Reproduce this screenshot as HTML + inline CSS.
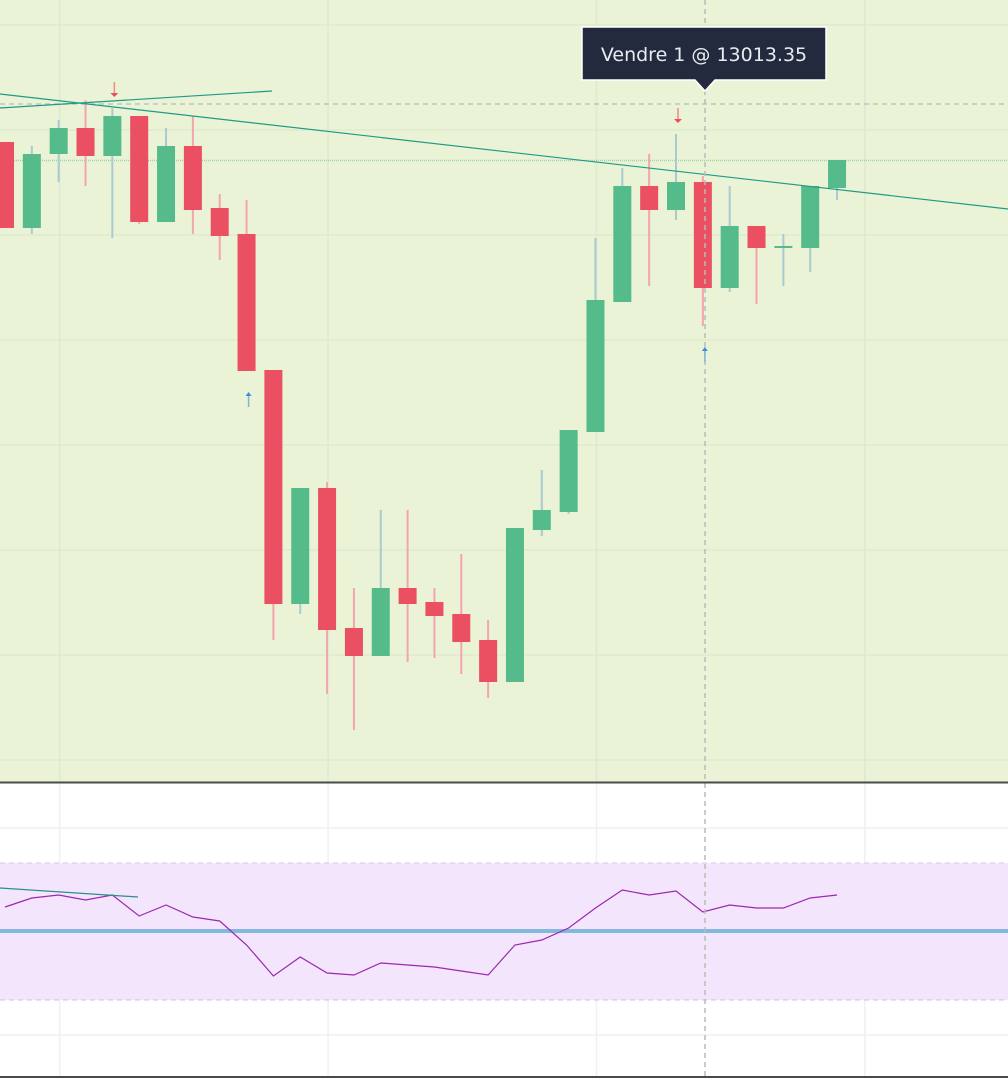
<!DOCTYPE html>
<html><head><meta charset="utf-8"><style>
html,body{margin:0;padding:0;width:1008px;height:1078px;overflow:hidden;background:#fff}
svg{display:block}
</style></head><body>
<svg id="chart" width="1008" height="1078" xmlns="http://www.w3.org/2000/svg">
<rect x="0" y="0" width="1008" height="782" fill="#eaf3d6"/>
<rect x="0" y="783" width="1008" height="295" fill="#ffffff"/>
<g id="grid"></g>
<rect x="0" y="863" width="1008" height="137" fill="#f3e5fb"/>
<line x1="0" y1="863" x2="1008" y2="863" stroke="#dcc6e6" stroke-dasharray="5,4"/>
<line x1="0" y1="1000" x2="1008" y2="1000" stroke="#d4bcdf" stroke-dasharray="5,4"/>
<line x1="0" y1="931" x2="1008" y2="931" stroke="#84b9de" stroke-width="4"/>
<line x1="0" y1="104" x2="1008" y2="104" stroke="#c0c4bc" stroke-width="1.5" stroke-dasharray="5,4"/>
<line x1="0" y1="160.5" x2="1008" y2="160.5" stroke="#9fd1a8" stroke-width="1.5" stroke-dasharray="1,1"/>
<g id="candles"></g>
<line x1="0" y1="94" x2="1008" y2="209" stroke="#1e9a86" stroke-width="1.2"/>
<line x1="0" y1="108" x2="272" y2="91" stroke="#1e9a86" stroke-width="1.2"/>
<polyline id="rsi" fill="none" stroke="#9c27b0" stroke-width="1.2"/>
<line x1="0" y1="888" x2="138" y2="897" stroke="#26908a" stroke-width="1.2"/>
<line x1="705" y1="0" x2="705" y2="1078" stroke="#b9bcb6" stroke-width="1.5" stroke-dasharray="5,4"/>
<g id="signals"></g>
<line x1="0" y1="782.5" x2="1008" y2="782.5" stroke="#4a4a4a" stroke-width="2"/>
<line x1="0" y1="1077" x2="1008" y2="1077" stroke="#4a4a4a" stroke-width="2"/>
<g>
<path d="M582,27 H826 V80 H715 L705,91 L695,80 H582 Z" fill="#232a3d" stroke="#ffffff" stroke-width="1.5"/>
<text x="704" y="61" text-anchor="middle" font-family="DejaVu Sans, Liberation Sans, sans-serif" font-size="19" fill="#e8ecf2">Vendre 1 @ 13013.35</text>
</g>
</svg>
<script>
// values expressed as price units; y pixel = 1000 - value
const opens  = [858,772,846,872,844,884,778,854,792,766,630,396,512,372,344,412,398,386,360,318,470,488,568,698,814,790,818,712,774,753,752,812];
const highs  = [858,854,880,900,892,884,872,884,806,800,630,512,518,412,490,490,412,446,380,472,530,570,762,832,846,866,824,814,774,766,814,840];
const lows   = [772,766,818,814,762,776,778,766,740,629,360,386,306,270,344,338,342,326,302,318,464,486,568,698,714,780,674,708,696,714,728,800];
const closes = [772,846,872,844,884,778,854,790,764,629,396,512,370,344,412,396,384,358,318,472,490,570,700,814,790,818,712,774,752,754,814,840];
const rsiVals = [93,102,105,100,105,84,95,83,79,55,24,43,27,25,37,35,33,29,25,55,60,72,92,110,105,109,88,95,92,92,102,105];
const gridPriceTicks = [975,870,765,660,555,450,345,240];
const gridRsiTicks = [172,102,34,-35];
const gridXIdx = [2,12,22,32];
const sigDown = [4,25];
const sigUp = [9,26];

const NS='http://www.w3.org/2000/svg';
const x = i => 5 + i*26.84;
const y = v => 1000 - v;
const ry = v => 1000 - v;
function mk(tag, attrs, parent){const e=document.createElementNS(NS,tag);for(const k in attrs)e.setAttribute(k,attrs[k]);parent.appendChild(e);return e;}
const grid=document.getElementById('grid');
gridPriceTicks.forEach(v=>{const l=mk('line',{x1:0,x2:1008,y1:y(v),y2:y(v),stroke:'#dcebcf','stroke-width':1.5},grid);

});
gridRsiTicks.forEach(v=>{const l=mk('line',{x1:0,x2:1008,y1:ry(v),y2:ry(v),stroke:'#eef1f6','stroke-width':1.5},grid);

});
gridXIdx.forEach(i=>{const gx=x(i)+1;
const l=mk('line',{x1:gx,x2:gx,y1:0,y2:782,stroke:'#dde9d3','stroke-width':1.5},grid);


const l2=mk('line',{x1:gx,x2:gx,y1:783,y2:1078,stroke:'#edf1f6','stroke-width':1.5},grid);

});
const cg=document.getElementById('candles');
opens.forEach((o,i)=>{
  const c=closes[i],up=c>=o;
  const g=mk('g',{},cg);
  
  
  mk('line',{x1:x(i),x2:x(i),y1:y(highs[i]),y2:y(lows[i]),stroke:up?'#a7cbd0':'#f4a4ad','stroke-width':2},g);
  const top=y(Math.max(o,c)),h=Math.max(2,Math.abs(o-c));
  mk('rect',{x:x(i)-9,y:top,width:18,height:h,fill:up?'#55bb8a':'#ea4f62'},g);
});
document.getElementById('rsi').setAttribute('points',rsiVals.map((v,i)=>x(i)+','+ry(v)).join(' '));
const sg=document.getElementById('signals');
sigDown.forEach(i=>{const xx=x(i)+2,yy=y(highs[i])-12;const g=mk('g',{},sg);


mk('line',{x1:xx,x2:xx,y1:yy-14,y2:yy,stroke:'#f08a8a','stroke-width':1.5},g);
mk('path',{d:`M${xx-4},${yy-3} L${xx+4},${yy-3} L${xx},${yy+1} Z`,fill:'#e8505f'},g);});
sigUp.forEach(i=>{const xx=x(i)+2,yy=y(lows[i])+22;const g=mk('g',{},sg);


mk('line',{x1:xx,x2:xx,y1:yy,y2:yy+14,stroke:'#7fb3de','stroke-width':1.5},g);
mk('path',{d:`M${xx-3},${yy+3} L${xx+3},${yy+3} L${xx},${yy-1} Z`,fill:'#3d8fd6'},g);});
</script>
</body></html>
